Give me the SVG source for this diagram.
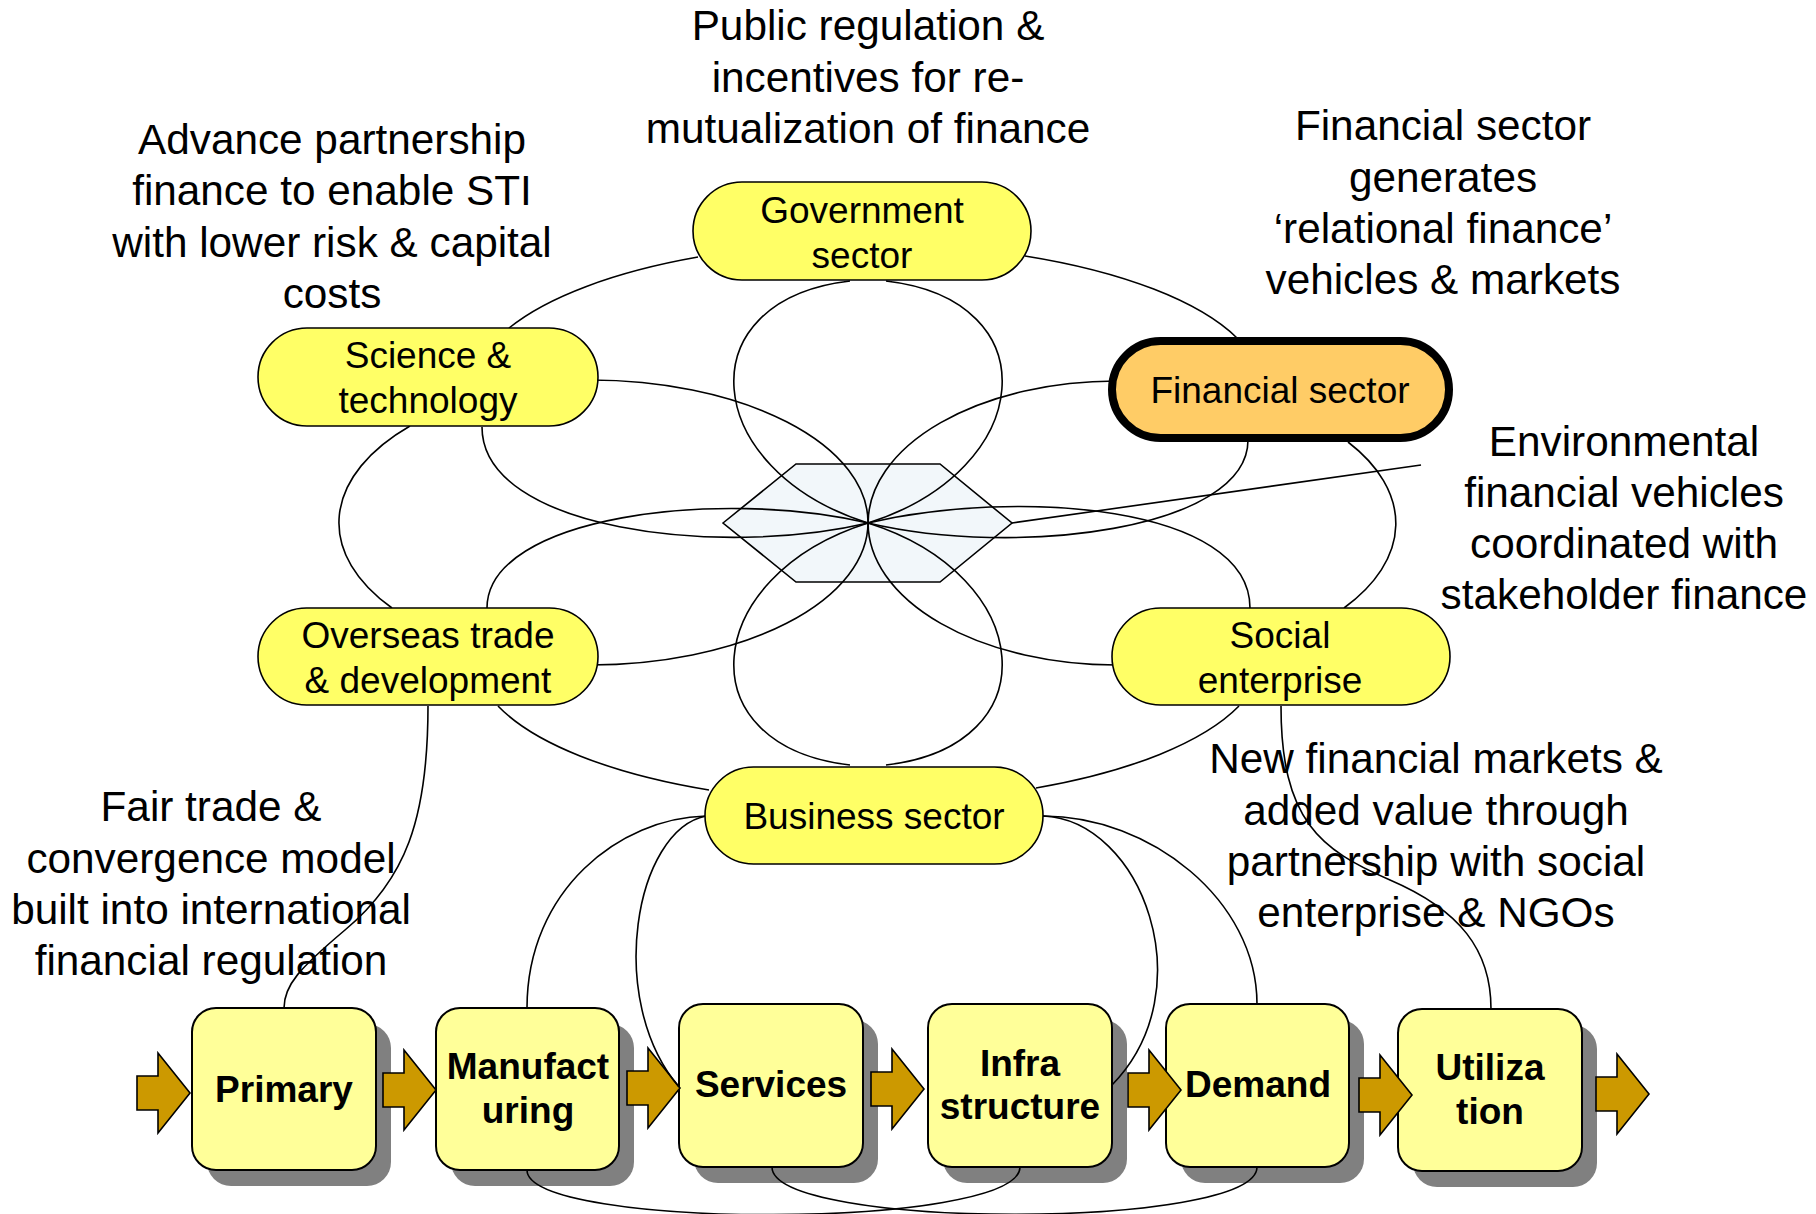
<svg xmlns="http://www.w3.org/2000/svg" width="1816" height="1214" viewBox="0 0 1816 1214">
<style>
.node{fill:#ffff66;stroke:#000;stroke-width:1.6}
.fin{fill:#ffcc66;stroke:#000;stroke-width:8}
.t{font-family:"Liberation Sans",Arial,sans-serif;font-size:37px;fill:#000;text-anchor:middle}
.ann{font-family:"Liberation Sans",Arial,sans-serif;font-size:42.3px;fill:#000;text-anchor:middle}
.b{font-weight:bold}
.box{fill:#ffff99;stroke:#000;stroke-width:2}
.shadow{fill:#808080}
.arr{fill:#cc9900;stroke:#000;stroke-width:1.6}
.c{fill:none;stroke:#000;stroke-width:1.6}
</style>
<defs>
<path id="arrow" d="M0,-17 H21 V-40 L53,0 L21,40 V17 H0 Z"/>
</defs>
<rect width="1816" height="1214" fill="#fff"/>

<g id="hub">
<polygon points="723,523 796,464 940,464 1012,523 940,582 796,582" fill="#f2f7fa" stroke="#000" stroke-width="1.6"/>
</g>

<g id="primary"><rect class="shadow" x="207" y="1024" width="184" height="162" rx="24"/><rect class="box" x="192" y="1008" width="184" height="162" rx="24"/><text class="t b" x="284" y="1102">Primary</text></g>
<g id="manufacturing"><rect class="shadow" x="451" y="1024" width="183" height="162" rx="24"/><rect class="box" x="436" y="1008" width="183" height="162" rx="24"/><text class="t b" x="528" y="1079">Manufact</text><text class="t b" x="528" y="1123">uring</text></g>
<g id="services"><rect class="shadow" x="694" y="1020" width="184" height="163" rx="24"/><rect class="box" x="679" y="1004" width="184" height="163" rx="24"/><text class="t b" x="771" y="1097">Services</text></g>
<g id="infrastructure"><rect class="shadow" x="943" y="1020" width="184" height="163" rx="24"/><rect class="box" x="928" y="1004" width="184" height="163" rx="24"/><text class="t b" x="1020" y="1076">Infra</text><text class="t b" x="1020" y="1119">structure</text></g>
<g id="demand"><rect class="shadow" x="1181" y="1020" width="183" height="163" rx="24"/><rect class="box" x="1166" y="1004" width="183" height="163" rx="24"/><text class="t b" x="1258" y="1097">Demand</text></g>
<g id="utilization"><rect class="shadow" x="1413" y="1025" width="184" height="162" rx="24"/><rect class="box" x="1398" y="1009" width="184" height="162" rx="24"/><text class="t b" x="1490" y="1080">Utiliza</text><text class="t b" x="1490" y="1124">tion</text></g>

<g id="flow-arrows" class="arr">
<use href="#arrow" x="137" y="1093"/>
<use href="#arrow" x="383" y="1090"/>
<use href="#arrow" x="627" y="1088"/>
<use href="#arrow" x="871" y="1089"/>
<use href="#arrow" x="1128" y="1090"/>
<use href="#arrow" x="1359" y="1095"/>
<use href="#arrow" x="1596" y="1094"/>
</g>

<g id="connectors" class="c">
<path d="M509,328 A395,145 0 0 1 698,257"/>
<path d="M1025,256 A395,145 0 0 1 1237,338"/>
<path d="M410,426 A265,142 0 0 0 392,608"/>
<path d="M1348,442 A264,142 0 0 1 1344,608"/>
<path d="M498,706 A395,145 0 0 0 709,790"/>
<path d="M1036,788 A395,145 0 0 0 1239,706"/>
<path d="M590,380 A278,142.5 0 0 1 590,665"/>
<path d="M1116,381 A248,142 0 0 0 1116,665"/>
<path d="M482,427 C482,530 720,558 868,523 C1016,488 1250,505 1250,608"/>
<path d="M487,608 C487,516 720,488 868,523 C1016,558 1248,530 1248,440"/>
<path d="M850,281 C685,300 700,470 868,523 C1036,576 1051,746 886,765"/>
<path d="M886,281 C1051,300 1036,470 868,523 C700,576 685,746 850,765"/>
<path d="M1012,523 L1421,465"/>
<path d="M428,706 C428,820 405,880 345,930 C300,968 284,985 284,1008"/>
<path d="M1281,706 C1281,820 1320,850 1390,880 C1460,910 1491,950 1491,1009"/>
<path d="M706,816 C620,818 527,890 527,1008"/>
<path d="M706,816 C635,830 605,1000 679,1087"/>
<path d="M1043,816 C1142,820 1205,990 1112,1085"/>
<path d="M1043,816 C1150,816 1257,900 1257,1004"/>
<path d="M527,1170 C527,1230 1020,1230 1020,1167"/>
<path d="M772,1167 C772,1230 1257,1230 1257,1167"/>
</g>

<g id="government"><rect class="node" x="693" y="182" width="338" height="98" rx="49"/><text class="t" x="862" y="223">Government</text><text class="t" x="862" y="268">sector</text></g>
<g id="science"><rect class="node" x="258" y="328" width="340" height="98" rx="49"/><text class="t" x="428" y="368">Science &amp;</text><text class="t" x="428" y="413">technology</text></g>
<g id="financial"><rect class="fin" x="1112" y="341" width="337" height="97" rx="48.5"/><text class="t" x="1280" y="403">Financial sector</text></g>
<g id="overseas"><rect class="node" x="258" y="608" width="340" height="97" rx="48.5"/><text class="t" x="428" y="648">Overseas trade</text><text class="t" x="428" y="693">&amp; development</text></g>
<g id="social"><rect class="node" x="1112" y="608" width="338" height="97" rx="48.5"/><text class="t" x="1280" y="648">Social</text><text class="t" x="1280" y="693">enterprise</text></g>
<g id="business"><rect class="node" x="705" y="767" width="338" height="97" rx="48.5"/><text class="t" x="874" y="829">Business sector</text></g>

<g id="annotations" class="ann">
<text x="868" y="40">Public regulation &amp;</text>
<text x="868" y="92">incentives for re-</text>
<text x="868" y="143">mutualization of finance</text>
<text x="332" y="154">Advance partnership</text>
<text x="332" y="205">finance to enable STI</text>
<text x="332" y="257">with lower risk &amp; capital</text>
<text x="332" y="308">costs</text>
<text x="1443" y="140">Financial sector</text>
<text x="1443" y="192">generates</text>
<text x="1443" y="243">‘relational finance’</text>
<text x="1443" y="294">vehicles &amp; markets</text>
<text x="1624" y="456">Environmental</text>
<text x="1624" y="507">financial vehicles</text>
<text x="1624" y="558">coordinated with</text>
<text x="1624" y="609">stakeholder finance</text>
<text x="211" y="821">Fair trade &amp;</text>
<text x="211" y="873">convergence model</text>
<text x="211" y="924">built into international</text>
<text x="211" y="975">financial regulation</text>
<text x="1436" y="773">New financial markets &amp;</text>
<text x="1436" y="825">added value through</text>
<text x="1436" y="876">partnership with social</text>
<text x="1436" y="927">enterprise &amp; NGOs</text>
</g>
</svg>
